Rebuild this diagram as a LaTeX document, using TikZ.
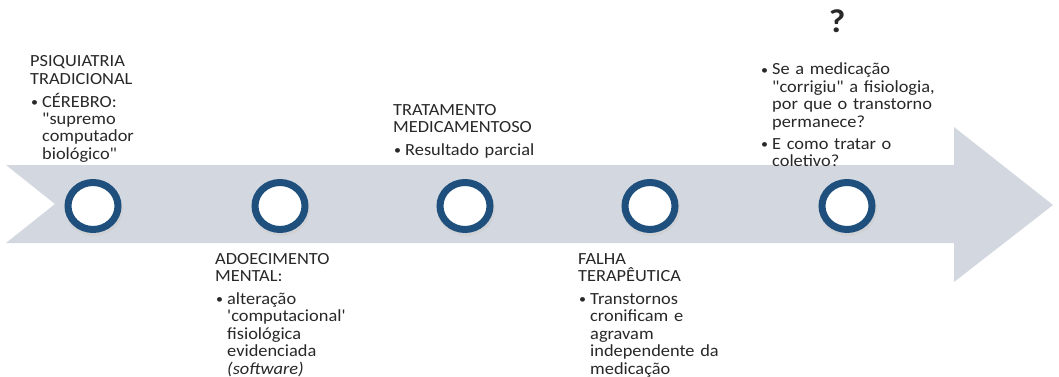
\documentclass[tikz,border=0pt]{standalone}
\usepackage{fontspec}
\setmainfont{Carlito}[Ligatures=TeXOff, FakeStretch=1.08]
\definecolor{band}{RGB}{211,216,224}
\definecolor{ring}{RGB}{31,80,125}
\definecolor{txt}{RGB}{40,40,40}
\newcommand{\bu}{\makebox[12pt][l]{\hspace{1pt}\raisebox{0.5pt}{\fontsize{13}{13}\selectfont•}}}
\newcommand{\ind}{\hspace*{12pt}}
\tikzset{
  label/.style={anchor=base west, inner sep=0pt, align=left, text width=240pt, text=txt,
    font=\fontsize{17}{17.5}\selectfont},
  dot/.style={draw=ring, line width=7pt, fill=white, ellipse, minimum width=50pt, minimum height=47pt, inner sep=0pt},
}
\usetikzlibrary{shapes.geometric}
\begin{document}
\begin{tikzpicture}[x=1pt,y=-1pt]
\useasboundingbox (0,0) rectangle (1059,377);
\fill[white] (0,0) rectangle (1059,377);
\fill[band] (6,165) -- (954,165) -- (954,127) -- (1053,205) -- (954,282) -- (954,243) -- (6,243) -- (55,204) -- cycle;
\foreach \n/\x in {c1/93, c2/280, c3/465, c4/650, c5/847}{
  \fill[black!20, opacity=0.5] (\x+1,209) ellipse (29pt and 27pt);
  \node[dot] (\n) at (\x,206) {};
}
\node[label] (t1) at (30,67) {PSIQUIATRIA\\TRADICIONAL\\[5pt]\bu CÉREBRO:\\\ind"supremo\\\ind computador\\\ind biológico"};
\node[label] (t2) at (215,264) {ADOECIMENTO\\MENTAL:\\[5pt]\bu alteração\\\ind'computacional'\\\ind fisiológica\\\ind evidenciada\\\ind\textit{(software)}};
\node[label] (t3) at (393,115) {TRATAMENTO\\MEDICAMENTOSO\\[5pt]\bu Resultado parcial};
\node[label] (t4) at (578,264) {FALHA\\TERAPÊUTICA\\[5pt]\bu Transtornos\\\ind cronificam e\\\ind agravam\\\ind independente da\\\ind medicação};
\node[anchor=base, inner sep=0pt, font=\fontsize{33}{33}\selectfont\bfseries, text=txt] (q) at (837,33) {?};
\node[label] (t5) at (760,75) {\bu Se a medicação\\\ind"corrigiu" a fisiologia,\\\ind por que o transtorno\\\ind permanece?\\[4pt]\bu E como tratar o\\\ind coletivo?};
\end{tikzpicture}
\end{document}
